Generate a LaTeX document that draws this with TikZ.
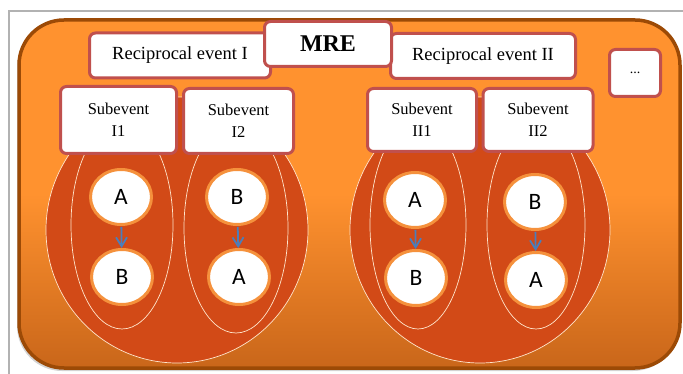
\documentclass[tikz,border=0pt]{standalone}
\usepackage{fontspec}
\setmainfont{Liberation Serif}
\newfontfamily\calibri{Carlito}
\usepackage{tikz}
\usetikzlibrary{arrows.meta}
\usetikzlibrary{shadows}
\usetikzlibrary{shapes.geometric}

\definecolor{bgtop}{HTML}{FF922F}
\definecolor{bgbot}{HTML}{C9661A}
\definecolor{bgline}{HTML}{9C4A06}
\definecolor{redfill}{HTML}{D24A17}
\definecolor{boxline}{HTML}{C0504D}
\definecolor{ringline}{HTML}{F5913C}
\definecolor{arrowblue}{HTML}{4A7EBB}

\begin{document}
\begin{tikzpicture}[x=1pt,y=-1pt,
			ev box/.style={draw=boxline,line width=3pt,fill=white,
				rounded corners=6pt,align=center,inner sep=0pt,
				font=\fontsize{18.5}{20}\selectfont},
			sub box/.style={ev box,font=\fontsize{16.5}{22}\selectfont},
			letter node/.style={ellipse,draw=ringline,line width=3pt,fill=white,
				minimum width=61pt,minimum height=55pt,inner sep=0pt,
				font=\calibri\fontsize{23.5}{23.5}\selectfont},
			flow/.style={->,>={Straight Barb[length=9pt,width=11pt,line width=1.8pt]},
				draw=arrowblue,line width=1.8pt,shorten <=1pt},
			group/.style={fill=redfill,draw=white!80!orange,line width=0.7pt}]
	
	\useasboundingbox (0,0) rectangle (683,374);
	\draw[gray!60,line width=1.2pt] (9,374) -- (9,11) -- (683,11);
	
	% MRE background
	\draw[bgline,line width=3.5pt,rounded corners=45pt,
		drop shadow={shadow xshift=-2pt,shadow yshift=-3pt,opacity=0.35},
		top color=bgtop,bottom color=bgbot,middle color=bgtop]
		(19,20) rectangle (680,368);
	
	% reciprocal events
	\draw[group] (177,230) ellipse [x radius=131,y radius=133];
	\draw[group] (480,230) ellipse [x radius=130,y radius=133];
	
	% subevents
	\draw[group] (122,225) ellipse [x radius=51,y radius=104];
	\draw[group] (236,228) ellipse [x radius=52,y radius=105];
	\draw[group] (418,225) ellipse [x radius=48,y radius=104];
	\draw[group] (536,225) ellipse [x radius=49,y radius=104];
	
	\node[letter node] (a1) at (121,197) {A};
	\node[letter node] (b1) at (122,277) {B};
	\node[letter node] (b2) at (237,197) {B};
	\node[letter node] (a2) at (239,277) {A};
	\node[letter node] (a3) at (415,200) {A};
	\node[letter node] (b3) at (416,278) {B};
	\node[letter node] (b4) at (535,202) {B};
	\node[letter node] (a4) at (536,280) {A};
	
	\draw[flow] (a1) -- (b1);
	\draw[flow] (b2) -- (a2);
	\draw[flow] (a3) -- (b3);
	\draw[flow] (b4) -- (a4);
	
	\node[sub box,minimum width=116pt,minimum height=67pt] (s11) at (118.5,120) {Subevent\\I1};
	\node[sub box,minimum width=110pt,minimum height=65pt] (s12) at (238.5,121) {Subevent\\I2};
	\node[sub box,minimum width=109pt,minimum height=63pt] (s21) at (422,120) {Subevent\\II1};
	\node[sub box,minimum width=110pt,minimum height=63pt] (s22) at (538,120) {Subevent\\II2};
	
	\node[ev box,minimum width=181pt,minimum height=45pt] (r1) at (180,55.5) {Reciprocal event I};
	\node[ev box,minimum width=185pt,minimum height=45pt] (r2) at (483,56) {Reciprocal event II};
	\node[ev box,minimum width=127pt,minimum height=45pt,
		font=\bfseries\fontsize{24}{26}\selectfont] (mre) at (328,44) {MRE};
	\node[ev box,minimum width=51pt,minimum height=47pt,
		font=\fontsize{14}{14}\selectfont] (more) at (635,73) {...};
\end{tikzpicture}
\end{document}
